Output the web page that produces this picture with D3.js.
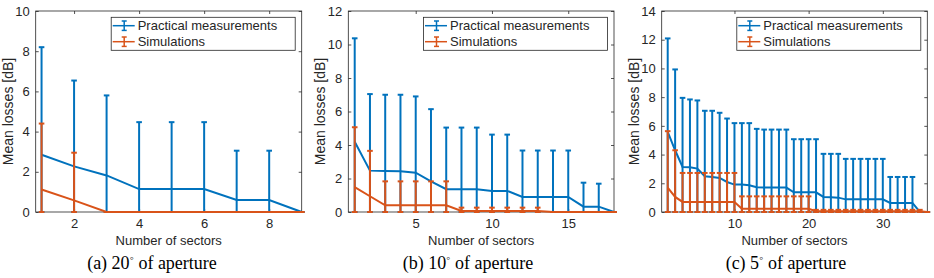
<!DOCTYPE html>
<html>
<head>
<meta charset="utf-8">
<script src="https://cdn.jsdelivr.net/npm/d3@7"></script>
<style>
  body { margin: 0; background: #fff; }
  svg text { font-family: "Liberation Sans", Arial, sans-serif; fill: #262626; }
  .caption { font-family: "Liberation Serif", "Times New Roman", serif; fill: #000; }
</style>
</head>
<body>
<svg id="chart" width="934" height="278"></svg>
<script>
// (a) 20 deg aperture, 9 sectors
const sectors20 = d3.range(1, 10);
const measMean20 = [2.85, 2.27, 1.82, 1.14, 1.14, 1.14, 0.6, 0.6, 0];
const measUpper20 = [8.2, 6.54, 5.8, 4.47, 4.47, 4.47, 3.05, 3.05, 0];
const simMean20 = [1.12, 0.58, 0, 0, 0, 0, 0, 0, 0];
const simUpper20 = [4.4, 2.95, 0, 0, 0, 0, 0, 0, 0];

// (b) 10 deg aperture, 18 sectors
const sectors10 = d3.range(1, 19);
const measMean10 = [4.19, 2.47, 2.45, 2.43, 2.35, 1.83, 1.36, 1.36, 1.36, 1.26, 1.26, 0.9, 0.9, 0.9, 0.9, 0.32, 0.32, 0];
const measUpper10 = [10.37, 7.04, 7.0, 7.0, 6.9, 6.14, 5.04, 5.04, 5.04, 4.62, 4.62, 3.67, 3.67, 3.67, 3.67, 1.75, 1.69, 0];
const simMean10 = [1.49, 0.94, 0.4, 0.4, 0.4, 0.4, 0.4, 0.06, 0.06, 0.06, 0.06, 0.06, 0.06, 0, 0, 0, 0, 0];
const simUpper10 = [5.06, 3.65, 1.83, 1.83, 1.83, 1.83, 1.83, 0.26, 0.26, 0.26, 0.26, 0.26, 0.26, 0, 0, 0, 0, 0];

// (c) 5 deg aperture, 36 sectors
const sectors5 = d3.range(1, 37);
const measMean5 = [5.58, 4.3, 3.14, 3.12, 3.02, 2.49, 2.44, 2.37, 2.09, 1.91, 1.91, 1.86, 1.72, 1.7, 1.7, 1.7, 1.7,
  1.37, 1.37, 1.37, 1.37, 1.05, 1.02, 1.0, 0.88, 0.88, 0.88, 0.88, 0.88, 0.88, 0.63, 0.63, 0.63, 0.63, 0, 0];
const measUpper5 = [12.09, 9.93, 7.95, 7.84, 7.77, 7.05, 7.05, 6.91, 6.51, 6.19, 6.19, 6.19, 5.79, 5.74, 5.74, 5.74, 5.74,
  5.07, 5.07, 5.07, 5.07, 4.05, 4.05, 4.05, 3.7, 3.7, 3.7, 3.7, 3.7, 3.7, 2.44, 2.44, 2.44, 2.44, 0, 0];
const simMean5 = [1.7, 1.05, 0.7, 0.7, 0.7, 0.7, 0.7, 0.7, 0.7, 0.7, 0.23, 0.23, 0.23, 0.23, 0.23, 0.23, 0.23, 0.23, 0.23, 0.23,
  0.05, 0.05, 0.05, 0.05, 0.05, 0.05, 0.05, 0.05, 0.05, 0.05, 0.05, 0.05, 0.05, 0.05, 0.05, 0];
const simUpper5 = [5.63, 4.3, 2.72, 2.72, 2.72, 2.72, 2.72, 2.72, 2.72, 2.72, 1.09, 1.09, 1.09, 1.09, 1.09, 1.09, 1.09, 1.09, 1.09, 1.09,
  0.15, 0.15, 0.15, 0.15, 0.15, 0.15, 0.15, 0.15, 0.15, 0.15, 0.15, 0.15, 0.15, 0.15, 0.15, 0];

const seriesNames = ["Practical measurements", "Simulations"];
const colors = ["#0072BD", "#D95319"];

const panels = [
  { x: sectors20, series: [[measMean20, measUpper20], [simMean20, simUpper20]],
    xTicks: [2, 4, 6, 8], yMax: 10, yTicks: d3.range(0, 11, 2), xLo: 0.82,
    left: 35.7, right: 301.7, caption: ["(a) ", "20", " of aperture"], capX: 152 },
  { x: sectors10, series: [[measMean10, measUpper10], [simMean10, simUpper10]],
    xTicks: [5, 10, 15], yMax: 12, yTicks: d3.range(0, 13, 2), xLo: 0.58,
    left: 348.3, right: 614, caption: ["(b) ", "10", " of aperture"], capX: 468 },
  { x: sectors5, series: [[measMean5, measUpper5], [simMean5, simUpper5]],
    xTicks: [10, 20, 30], yMax: 14, yTicks: d3.range(0, 15, 2), xLo: 0.19,
    left: 661.7, right: 927.3, caption: ["(c) ", "5", " of aperture"], capX: 786 }
];

const plotTop = 11, plotBottom = 212;
const svg = d3.select("#chart");
const axisColor = "#262626";

panels.forEach(p => {
  const x = d3.scaleLinear().domain([p.xLo, p.x[p.x.length - 1]]).range([p.left, p.right]);
  const y = d3.scaleLinear().domain([0, p.yMax]).range([plotBottom, plotTop]);
  const g = svg.append("g");

  // axes with inward ticks
  const ax = [
    g.append("g").attr("transform", `translate(0,${plotBottom})`)
      .call(d3.axisBottom(x).tickValues(p.xTicks).tickSize(-3).tickPadding(7)),
    g.append("g").attr("transform", `translate(0,${plotTop})`)
      .call(d3.axisTop(x).tickValues(p.xTicks).tickSize(-3).tickFormat("")),
    g.append("g").attr("transform", `translate(${p.left},0)`)
      .call(d3.axisLeft(y).tickValues(p.yTicks).tickSize(-3).tickPadding(6)),
    g.append("g").attr("transform", `translate(${p.right},0)`)
      .call(d3.axisRight(y).tickValues(p.yTicks).tickSize(-3).tickFormat(""))
  ];
  ax.forEach(a => {
    a.select(".domain").remove();
    a.selectAll("line").attr("stroke", axisColor).attr("stroke-width", 0.8);
    a.selectAll("text").attr("font-size", 13).attr("fill", axisColor)
      .attr("font-family", '"Liberation Sans", Arial, sans-serif');
  });

  g.append("rect")
    .attr("x", p.left).attr("y", plotTop)
    .attr("width", p.right - p.left).attr("height", plotBottom - plotTop)
    .attr("fill", "none").attr("stroke", axisColor).attr("stroke-width", 0.8);

  // series: error bars from 0 to upper value, plus mean line
  p.series.forEach((s, si) => {
    const mean = s[0], upper = s[1];
    const sg = g.append("g").attr("stroke", colors[si]).attr("stroke-width", 2).attr("fill", "none");
    const pts = p.x.map((v, i) => ({ x: v, m: mean[i], u: upper[i] }));
    sg.selectAll("line.bar").data(pts).join("line").attr("class", "bar")
      .attr("x1", d => x(d.x)).attr("x2", d => x(d.x))
      .attr("y1", y(0)).attr("y2", d => y(d.u));
    sg.selectAll("line.capT").data(pts).join("line").attr("class", "capT")
      .attr("x1", d => x(d.x) - 2.8).attr("x2", d => x(d.x) + 2.8)
      .attr("y1", d => y(d.u)).attr("y2", d => y(d.u));
    sg.selectAll("line.capB").data(pts).join("line").attr("class", "capB")
      .attr("x1", d => x(d.x) - 2.8).attr("x2", d => x(d.x) + 2.8)
      .attr("y1", y(0)).attr("y2", y(0));
    sg.append("path")
      .attr("d", d3.line().x(d => x(d.x)).y(d => y(d.m))(pts));
  });

  // legend
  const lw = 184, lh = 33;
  const lx = p.right - 6.5 - lw, ly = plotTop + 6.3;
  const lg = g.append("g").attr("transform", `translate(${lx},${ly})`);
  lg.append("rect").attr("width", lw).attr("height", lh)
    .attr("fill", "#fff").attr("stroke", axisColor).attr("stroke-width", 0.8);
  seriesNames.forEach((name, i) => {
    const cy = 8.4 + i * 16;
    const ig = lg.append("g").attr("stroke", colors[i]).attr("stroke-width", 1.5);
    ig.append("line").attr("x1", 1.5).attr("x2", 23.5).attr("y1", cy).attr("y2", cy);
    ig.append("line").attr("x1", 13).attr("x2", 13).attr("y1", cy - 4.7).attr("y2", cy + 4.7);
    ig.append("line").attr("x1", 10.5).attr("x2", 15.5).attr("y1", cy - 4.7).attr("y2", cy - 4.7);
    ig.append("line").attr("x1", 10.5).attr("x2", 15.5).attr("y1", cy + 4.7).attr("y2", cy + 4.7);
    lg.append("text").attr("x", 26.5).attr("y", cy).attr("dy", "0.35em")
      .attr("font-size", 13).text(name);
  });

  // axis labels
  g.append("text")
    .attr("x", (p.left + p.right) / 2).attr("y", 245)
    .attr("text-anchor", "middle").attr("font-size", 13)
    .text("Number of sectors");
  g.append("text")
    .attr("transform", `translate(${p.left - 23},${(plotTop + plotBottom) / 2}) rotate(-90)`)
    .attr("text-anchor", "middle").attr("font-size", 14)
    .text("Mean losses [dB]");

  // caption
  const cap = g.append("text").attr("class", "caption")
    .attr("x", p.capX).attr("y", 269).attr("text-anchor", "middle").attr("font-size", 18);
  cap.append("tspan").text(p.caption[0] + p.caption[1]);
  cap.append("tspan").attr("dy", -7).attr("font-size", 12).text("\u25E6");
  cap.append("tspan").attr("dy", 7).text(" " + p.caption[2]);
});
</script>
</body>
</html>
